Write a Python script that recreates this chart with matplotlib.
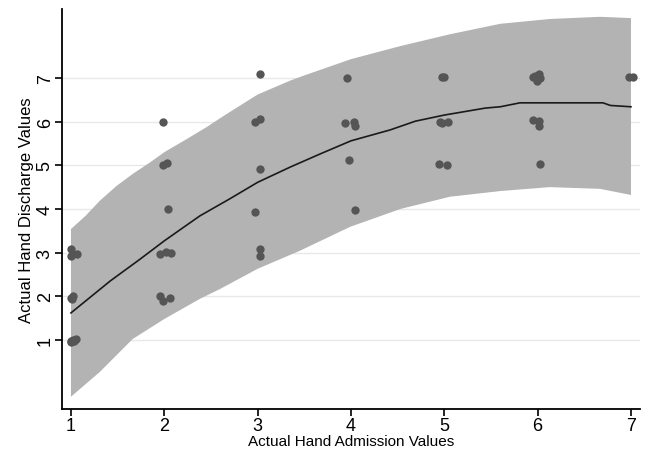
import numpy as np
import matplotlib.pyplot as plt

plt.rcParams['font.family'] = ['Liberation Sans', 'DejaVu Sans']

adm = [1.00, 1.00, 1.06, 1.00, 1.01, 1.02, 1.00, 1.02, 1.05, 1.00, 1.03,
       1.99, 1.99, 2.03, 2.04, 1.95, 2.02, 2.07, 1.95, 1.99, 2.06,
       3.03, 2.97, 3.03, 3.03, 2.97, 3.03, 3.03,
       3.96, 3.94, 4.03, 4.04, 3.98, 4.04,
       4.97, 5.00, 4.95, 4.98, 5.04, 4.94, 5.03,
       5.97, 6.01, 5.99, 6.02, 5.95, 5.95, 6.01, 6.01, 6.02,
       6.98, 7.02]
dis = [3.08, 2.93, 2.97, 1.97, 1.93, 2.00, 0.95, 1.00, 1.03, 0.97, 0.98,
       6.00, 5.01, 5.05, 4.00, 2.97, 3.02, 2.99, 2.00, 1.90, 1.96,
       7.08, 5.99, 6.06, 4.92, 3.92, 3.08, 2.92,
       6.99, 5.96, 6.00, 5.91, 5.12, 3.98,
       7.03, 7.03, 6.00, 5.97, 6.00, 5.03, 5.01,
       7.05, 7.09, 6.93, 7.00, 7.02, 6.04, 6.02, 5.91, 5.02,
       7.03, 7.02]

# Curva ajustada
fit_x = [1.00, 1.42, 1.74, 2.00, 2.38, 2.70, 3.00, 3.35, 3.67, 4.00,
         4.42, 4.69, 5.00, 5.44, 5.60, 5.81, 6.70, 6.78, 7.00]
fit_y = [1.62, 2.35, 2.85, 3.27, 3.84, 4.23, 4.61, 4.96, 5.26, 5.56,
         5.81, 6.01, 6.15, 6.31, 6.34, 6.43, 6.43, 6.37, 6.34]

# Banda de prediccion
up_x = [1.00, 1.16, 1.31, 1.49, 1.66, 1.85, 2.00, 2.24, 2.45, 2.65,
        3.00, 3.35, 3.49, 4.00, 4.53, 5.06, 5.60, 6.13, 6.67, 7.00]
up_y = [3.54, 3.85, 4.19, 4.53, 4.80, 5.07, 5.30, 5.60, 5.87, 6.15,
        6.62, 6.94, 7.05, 7.43, 7.73, 8.00, 8.24, 8.35, 8.40, 8.37]
lo_x = [1.00, 1.31, 1.66, 2.00, 2.38, 2.60, 3.00, 3.45, 3.99, 4.53,
        5.06, 5.60, 6.13, 6.67, 7.00]
lo_y = [-0.30, 0.27, 1.02, 1.48, 1.94, 2.17, 2.63, 3.04, 3.59, 4.00,
        4.28, 4.41, 4.50, 4.46, 4.32]

ticks = [1, 2, 3, 4, 5, 6, 7]

fig = plt.figure(figsize=(6.48, 4.52), dpi=100)
ax = fig.add_axes([0.0957, 0.093, 0.892, 0.885])

for t in ticks:
    ax.axhline(t, color='#e8e8e8', linewidth=1, zorder=0)

ax.fill(np.concatenate([up_x, lo_x[::-1]]), np.concatenate([up_y, lo_y[::-1]]),
        color='#b3b3b3', linewidth=0, zorder=1)
ax.scatter(adm, dis, s=36, color='#555555', linewidths=0, zorder=2)
ax.plot(fit_x, fit_y, color='#1a1a1a', linewidth=1.2, zorder=3)

ax.set_xlim(0.904, 7.097)
ax.set_ylim(-0.58, 8.58)
ax.set_xticks(ticks)
ax.set_yticks(ticks)
ax.tick_params(direction='out', length=5, width=1.2, labelsize=13, pad=1)
for lab in ax.get_yticklabels():
    lab.set_rotation(90)
    lab.set_va('center')

for s in ['top', 'right']:
    ax.spines[s].set_visible(False)
for s in ['left', 'bottom']:
    ax.spines[s].set_linewidth(1.3)

ax.set_xlabel('Actual Hand Admission Values', fontsize=11, labelpad=0)
ax.set_ylabel('Actual Hand Discharge Values', fontsize=12, labelpad=2)

fig.savefig('out.png', dpi=100)
